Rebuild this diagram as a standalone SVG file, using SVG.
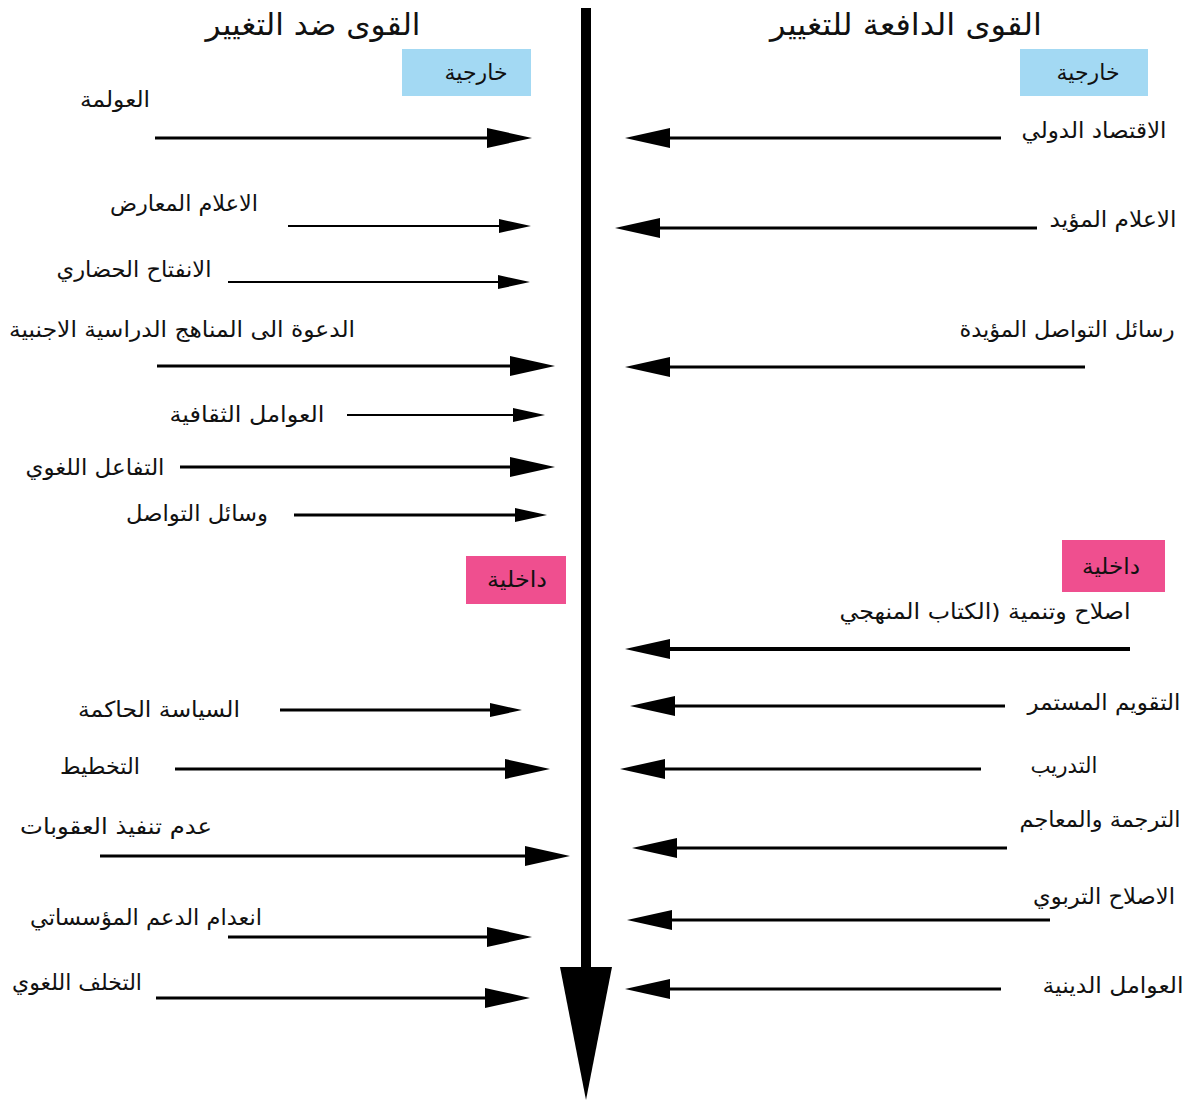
<svg xmlns="http://www.w3.org/2000/svg" width="1188" height="1102" viewBox="0 0 1188 1102">
<style>
text{font-family:"DejaVu Sans","Noto Sans",sans-serif;fill:#111;text-anchor:middle}
.title{font-size:30px}
.lbl{font-size:22px}
.tag{font-size:22px}
.ext{fill:#a3d9f3}
.int{fill:#ef4f8f}
.arr{stroke:#000;fill:none;stroke-width:3}
.thin{stroke-width:2}
</style>
<defs>
<marker id="hb" markerUnits="userSpaceOnUse" markerWidth="50" markerHeight="24" refX="0" refY="0" orient="auto" overflow="visible"><path d="M0,-10 L45,0 L0,10 z" fill="#000"/></marker>
<marker id="hs" markerUnits="userSpaceOnUse" markerWidth="40" markerHeight="16" refX="0" refY="0" orient="auto" overflow="visible"><path d="M0,-7 L32,0 L0,7 z" fill="#000"/></marker>
</defs>
<rect width="1188" height="1102" fill="#fff"/>

<g id="axis">
<rect x="581" y="8" width="10" height="962" fill="#000"/>
<polygon points="560,967 612,967 586,1100" fill="#000"/>
</g>

<g id="title-left"><text class="title" x="313" y="35" textLength="215" lengthAdjust="spacingAndGlyphs">القوى ضد التغيير</text></g>
<g id="title-right"><text class="title" x="906" y="35" textLength="272" lengthAdjust="spacingAndGlyphs">القوى الدافعة للتغيير</text></g>

<g id="tag-ext-left"><rect class="ext" x="402" y="49" width="129" height="47"/><text class="tag" x="476" y="80" textLength="63" lengthAdjust="spacingAndGlyphs">خارجية</text></g>
<g id="tag-ext-right"><rect class="ext" x="1020" y="49" width="128" height="47"/><text class="tag" x="1088" y="80" textLength="63" lengthAdjust="spacingAndGlyphs">خارجية</text></g>
<g id="tag-int-left"><rect class="int" x="466" y="556" width="100" height="48"/><text class="tag" x="517" y="587" textLength="60" lengthAdjust="spacingAndGlyphs">داخلية</text></g>
<g id="tag-int-right"><rect class="int" x="1062" y="540" width="103" height="52"/><text class="tag" x="1111" y="574" textLength="58" lengthAdjust="spacingAndGlyphs">داخلية</text></g>

<g id="l1"><text class="lbl" x="115" y="107" textLength="70" lengthAdjust="spacingAndGlyphs">العولمة</text></g>
<g id="l2"><text class="lbl" x="184" y="211" textLength="148" lengthAdjust="spacingAndGlyphs">الاعلام المعارض</text></g>
<g id="l3"><text class="lbl" x="134" y="277" textLength="155" lengthAdjust="spacingAndGlyphs">الانفتاح الحضاري</text></g>
<g id="l4"><text class="lbl" x="182" y="337" textLength="346" lengthAdjust="spacingAndGlyphs">الدعوة الى المناهج الدراسية الاجنبية</text></g>
<g id="l5"><text class="lbl" x="247" y="422" textLength="155" lengthAdjust="spacingAndGlyphs">العوامل الثقافية</text></g>
<g id="l6"><text class="lbl" x="95" y="475" textLength="139" lengthAdjust="spacingAndGlyphs">التفاعل اللغوي</text></g>
<g id="l7"><text class="lbl" x="197" y="521" textLength="142" lengthAdjust="spacingAndGlyphs">وسائل التواصل</text></g>
<g id="l8"><text class="lbl" x="159" y="717" textLength="162" lengthAdjust="spacingAndGlyphs">السياسة الحاكمة</text></g>
<g id="l9"><text class="lbl" x="100" y="774" textLength="80" lengthAdjust="spacingAndGlyphs">التخطيط</text></g>
<g id="l10"><text class="lbl" x="116" y="834" textLength="192" lengthAdjust="spacingAndGlyphs">عدم تنفيذ العقوبات</text></g>
<g id="l11"><text class="lbl" x="146" y="925" textLength="232" lengthAdjust="spacingAndGlyphs">انعدام الدعم المؤسساتي</text></g>
<g id="l12"><text class="lbl" x="77" y="990" textLength="130" lengthAdjust="spacingAndGlyphs">التخلف اللغوي</text></g>

<g id="r1"><text class="lbl" x="1094" y="138" textLength="145" lengthAdjust="spacingAndGlyphs">الاقتصاد الدولي</text></g>
<g id="r2"><text class="lbl" x="1113" y="227" textLength="127" lengthAdjust="spacingAndGlyphs">الاعلام المؤيد</text></g>
<g id="r3"><text class="lbl" x="1067" y="337" textLength="215" lengthAdjust="spacingAndGlyphs">رسائل التواصل المؤيدة</text></g>
<g id="r4"><text class="lbl" x="985" y="619" direction="rtl" textLength="291" lengthAdjust="spacingAndGlyphs">اصلاح وتنمية (الكتاب المنهجي</text></g>
<g id="r5"><text class="lbl" x="1104" y="710" textLength="153" lengthAdjust="spacingAndGlyphs">التقويم المستمر</text></g>
<g id="r6"><text class="lbl" x="1064" y="773" textLength="67" lengthAdjust="spacingAndGlyphs">التدريب</text></g>
<g id="r7"><text class="lbl" x="1100" y="827" textLength="161" lengthAdjust="spacingAndGlyphs">الترجمة والمعاجم</text></g>
<g id="r8"><text class="lbl" x="1104" y="904" textLength="142" lengthAdjust="spacingAndGlyphs">الاصلاح التربوي</text></g>
<g id="r9"><text class="lbl" x="1113" y="993" textLength="141" lengthAdjust="spacingAndGlyphs">العوامل الدينية</text></g>

<g id="connectors">
<path class="arr" d="M155,138 H487" marker-end="url(#hb)"/>
<path class="arr thin" d="M288,226 H499" marker-end="url(#hs)"/>
<path class="arr thin" d="M228,282 H498" marker-end="url(#hs)"/>
<path class="arr" d="M157,366 H510" marker-end="url(#hb)"/>
<path class="arr thin" d="M347,415 H513" marker-end="url(#hs)"/>
<path class="arr" d="M180,467 H510" marker-end="url(#hb)"/>
<path class="arr" d="M294,515 H515" marker-end="url(#hs)"/>
<path class="arr" d="M280,710 H490" marker-end="url(#hs)"/>
<path class="arr" d="M175,769 H505" marker-end="url(#hb)"/>
<path class="arr" d="M100,856 H525" marker-end="url(#hb)"/>
<path class="arr" d="M228,937 H487" marker-end="url(#hb)"/>
<path class="arr" d="M156,998 H485" marker-end="url(#hb)"/>

<path class="arr" d="M1001,138 H670" marker-end="url(#hb)"/>
<path class="arr" d="M1037,228 H660" marker-end="url(#hb)"/>
<path class="arr" d="M1085,367 H670" marker-end="url(#hb)"/>
<path class="arr" d="M1130,649 H670" marker-end="url(#hb)" style="stroke-width:4"/>
<path class="arr" d="M1005,706 H675" marker-end="url(#hb)"/>
<path class="arr" d="M981,769 H665" marker-end="url(#hb)"/>
<path class="arr" d="M1007,848 H677" marker-end="url(#hb)"/>
<path class="arr" d="M1050,920 H672" marker-end="url(#hb)"/>
<path class="arr" d="M1001,989 H670" marker-end="url(#hb)"/>
</g>
</svg>
